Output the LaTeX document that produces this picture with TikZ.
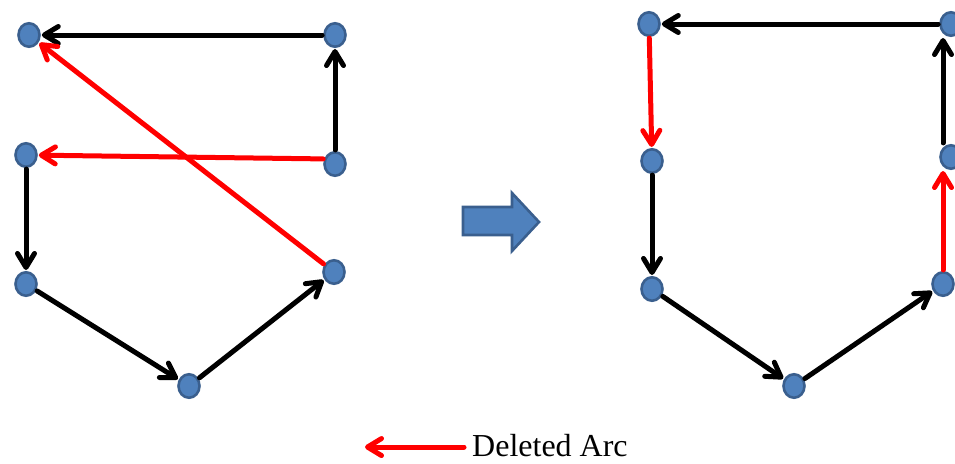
\documentclass[tikz,border=0pt]{standalone}
\usepackage{fontspec}
\setmainfont{Liberation Serif}
\usetikzlibrary{arrows.meta,shapes.geometric}
\definecolor{vtxfill}{HTML}{4F81BD}
\definecolor{vtxline}{HTML}{3A5F8E}
\tikzset{
  vtx/.style={ellipse, minimum width=21pt, minimum height=23.5pt, inner sep=0pt,
    fill=vtxfill, draw=vtxline, line width=2.6pt},
  arc/.style={line width=5pt, line cap=round, line join=round,
    -{Straight Barb[length=14pt,width=17pt,round]}, shorten >=1pt, shorten <=1pt},
  keptarc/.style={arc, black},
  delarc/.style={arc, red},
  bigarrow/.style={fill=vtxfill, draw=vtxline, line width=2.6pt, line join=miter}
}
\begin{document}
\begin{tikzpicture}[x=1pt, y=-1pt]
\useasboundingbox (0,0) rectangle (955,463);

% graph before the change
\node[vtx] (a1) at (29,35) {};
\node[vtx] (b1) at (335,35) {};
\node[vtx] (c1) at (26,155) {};
\node[vtx] (d1) at (335,164) {};
\node[vtx] (e1) at (26,284) {};
\node[vtx] (f1) at (189,386) {};
\node[vtx] (g1) at (334,272) {};

\draw[keptarc] (b1) -- (a1);
\draw[keptarc] (d1) -- (b1);
\draw[delarc] (d1.155) -- (c1);
\draw[delarc] (g1) -- (a1);
\draw[keptarc] (c1) -- (e1);
\draw[keptarc] (e1) -- (f1);
\draw[keptarc] (f1) -- (g1);

% transition arrow
\fill[bigarrow] (463,207) -- (512,207) -- (512,193) -- (539,222) -- (512,251)
  -- (512,235) -- (463,235) -- cycle;

% graph after the change
\node[vtx] (a2) at (649,24) {};
\node[vtx] (b2) at (951,24) {};
\node[vtx] (c2) at (652,161) {};
\node[vtx] (d2) at (951,157) {};
\node[vtx] (e2) at (652,289) {};
\node[vtx] (f2) at (794,386) {};
\node[vtx] (g2) at (943,284) {};

\draw[keptarc] (b2) -- (a2);
\draw[keptarc] ([xshift=-8pt]d2.north) -- ([xshift=-8pt]b2.south);
\draw[delarc] (a2) -- (c2);
\draw[keptarc] (c2) -- (e2);
\draw[keptarc] (e2) -- (f2);
\draw[keptarc] (f2) -- (g2);
\draw[delarc] (g2.north) -- ([xshift=-8pt]d2.south);

% legend
\node[anchor=base west, inner sep=0pt, font=\fontsize{32}{38}\selectfont]
  (lbl) at (472,456) {Deleted Arc};
\coordinate (legtip) at (364,449);
\draw[delarc] ([xshift=-7pt,yshift=-2pt]lbl.west) -- ([yshift=-2pt]lbl.west -| legtip);
\end{tikzpicture}
\end{document}
